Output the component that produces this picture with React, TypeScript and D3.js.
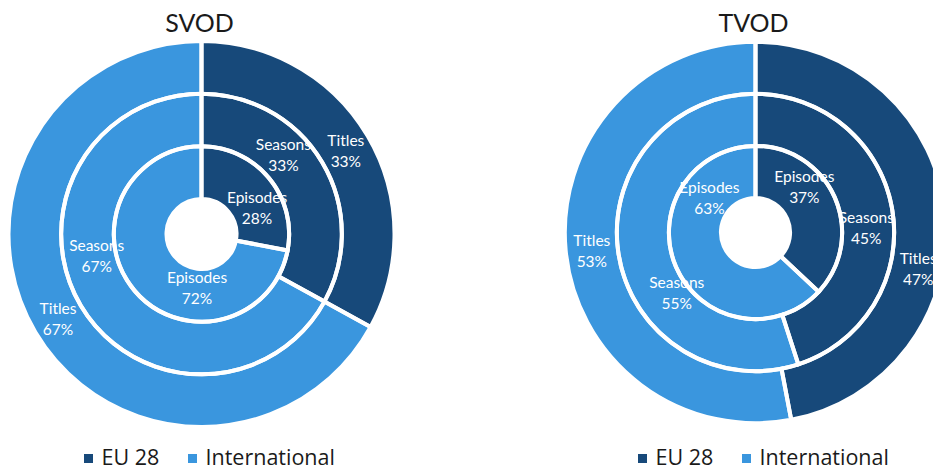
import React from "react";
import * as d3 from "d3";

// ---- data ----
const segmentNames = ["EU 28", "International"];
const ringNames = ["Episodes", "Seasons", "Titles"]; // inner -> outer
const svodEU = [28, 33, 33];
const svodIntl = [72, 67, 67];
const tvodEU = [37, 45, 47];
const tvodIntl = [63, 55, 53];
const chartTitles = ["SVOD", "TVOD"];

// ---- layout / style ----
const COLORS = ["#17497A", "#3A96DE"];
const FONT = "Lato, 'Noto Sans', sans-serif";
const LEGEND_FONT = "'Open Sans', 'Noto Sans', sans-serif";
const charts = [
  { title: chartTitles[0], eu: svodEU, intl: svodIntl, cx: 201.5, cy: 234, s: 1 },
  { title: chartTitles[1], eu: tvodEU, intl: tvodIntl, cx: 755.5, cy: 232.5, s: 0.988 },
];
// label nudges relative to the segment centroid: [angle shift (deg), radial shift (px)]
// indexed [ring][segment]
const labelNudges = [
  [
    [[14.5, 0], [-45.6, -7.6]],
    [[-13.5, 0], [19, -7]],
    [[0.6, 0], [0, 0]],
  ],
  [
    [[-19.8, 6.4], [60.7, -2.6]],
    [[6.4, -1.7], [-28.2, -13.7]],
    [[17.9, 2], [-0.9, 0]],
  ],
];

function Donut({ chart, idx }: { chart: any; idx: number }) {
  const { cx, cy, s } = chart;
  const radius = d3.scaleLinear().domain([0, 3]).range([35 * s, 193 * s]);
  const pie = d3
    .pie<number>()
    .sort(null)
    .value((d) => d)
    .startAngle(0)
    .endAngle(2 * Math.PI);

  const rings = ringNames.map((name, ri) => {
    const vals = [chart.eu[ri], chart.intl[ri]];
    const arcs = pie(vals);
    const arc = d3
      .arc<d3.PieArcDatum<number>>()
      .innerRadius(radius(ri))
      .outerRadius(radius(ri + 1));
    return { name, arcs, arc, ri };
  });

  const labels: any[] = [];
  rings.forEach(({ name, arcs, ri }) => {
    arcs.forEach((a, si) => {
      const mid = (a.startAngle + a.endAngle) / 2;
      const [da, dr] = labelNudges[idx][ri][si];
      const ang = mid + (da * Math.PI) / 180;
      const r = (radius(ri) + radius(ri + 1)) / 2 + dr;
      labels.push({
        key: `${ri}-${si}`,
        x: r * Math.sin(ang),
        y: -r * Math.cos(ang),
        name,
        value: a.data,
      });
    });
  });

  return (
    <g>
      <text
        x={cx - 2}
        y={31.5}
        textAnchor="middle"
        fontFamily={FONT}
        fontSize={25}
        fill="#1a1a1a"
      >
        {chart.title}
      </text>
      <g transform={`translate(${cx},${cy})`}>
        {rings.map(({ arcs, arc, ri }) =>
          arcs.map((a, si) => (
            <path key={`f${ri}-${si}`} d={arc(a) || ""} fill={COLORS[si]} />
          ))
        )}
        {labels.map((l) => (
          <text
            key={l.key}
            textAnchor="middle"
            fontFamily={FONT}
            fontSize={15.5}
            fill="#ffffff"
          >
            <tspan x={l.x} y={l.y - 10.5} dominantBaseline="central">
              {l.name}
            </tspan>
            <tspan x={l.x} y={l.y + 10.5} dominantBaseline="central">
              {`${l.value}%`}
            </tspan>
          </text>
        ))}
        {rings.map(({ arcs, arc, ri }) =>
          arcs.map((a, si) => (
            <path
              key={`s${ri}-${si}`}
              d={arc(a) || ""}
              fill="none"
              stroke="#ffffff"
              strokeWidth={4}
              strokeLinejoin="miter"
            />
          ))
        )}
      </g>
      <g fontFamily={LEGEND_FONT} fontSize={21.5} fill="#1a1a1a">
        {segmentNames.map((n, i) => {
          const sx = cx + (i === 0 ? -117.5 : -13.5);
          return (
            <g key={n}>
              <rect x={sx} y={454} width={9} height={9} fill={COLORS[i]} />
              <text x={sx + 17.5} y={464.5}>
                {n}
              </text>
            </g>
          );
        })}
      </g>
    </g>
  );
}

export default function App() {
  return (
    <svg
      width={933}
      height={470}
      style={{ position: "absolute", left: 0, top: 0, display: "block", background: "#fff" }}
    >
      <rect width={933} height={470} fill="#ffffff" />
      {charts.map((c, i) => (
        <Donut key={c.title} chart={c} idx={i} />
      ))}
    </svg>
  );
}
